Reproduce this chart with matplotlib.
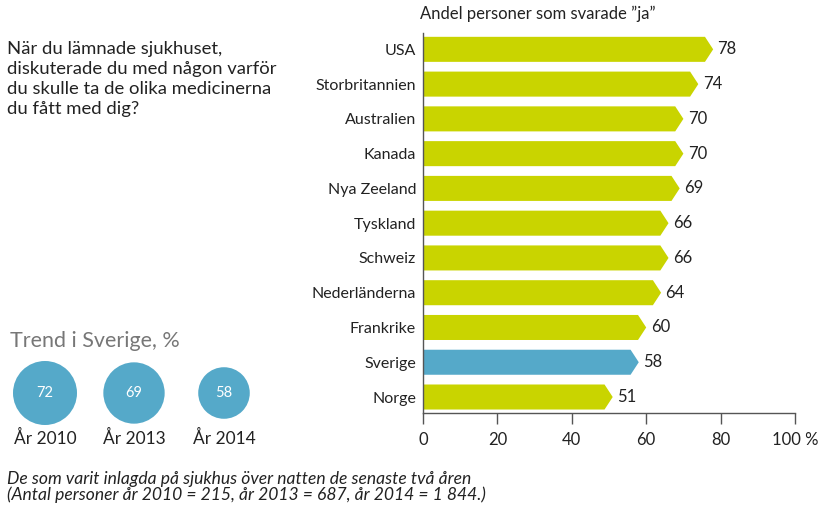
import matplotlib.pyplot as plt
from matplotlib.patches import Circle

plt.rcParams['font.family'] = ['Lato', 'DejaVu Sans']

countries = ['USA', 'Storbritannien', 'Australien', 'Kanada', 'Nya Zeeland', 'Tyskland',
             'Schweiz', 'Nederländerna', 'Frankrike', 'Sverige', 'Norge']
values = [78, 74, 70, 70, 69, 66, 66, 64, 60, 58, 51]
highlight = 'Sverige'

trend_years = ['År 2010', 'År 2013', 'År 2014']
trend_values = [72, 69, 58]

x_ticks = [0, 20, 40, 60, 80, 100]
x_tick_labels = ['0', '20', '40', '60', '80', '100 %']

green = '#c9d400'
blue = '#55a9c9'

W, H = 824, 507
fig = plt.figure(figsize=(W / 100, H / 100), dpi=100)
ax = fig.add_axes([423 / W, 1 - 413 / H, 372 / W, 380 / H])

bar_h = 0.72
tip = 2.2
for i, (c, v) in enumerate(zip(countries, values)):
    col = blue if c == highlight else green
    xs = [0, v - tip, v, v - tip, 0]
    ys = [i - bar_h / 2, i - bar_h / 2, i, i + bar_h / 2, i + bar_h / 2]
    ax.fill(xs, ys, color=col, lw=0)
    ax.text(v + 1.2, i, str(v), va='center', ha='left', fontsize=12, color='#222222')

ax.set_xlim(0, 100)
ax.set_ylim(len(countries) - 1 + 0.46, -0.47)
ax.set_yticks(range(len(countries)))
ax.set_yticklabels(countries, fontsize=11.5, color='#222222')
ax.tick_params(axis='y', length=0, pad=5)
ax.set_xticks(x_ticks)
ax.set_xticklabels(x_tick_labels, fontsize=12, color='#222222')
ax.tick_params(axis='x', direction='out', length=8, width=1, color='#555555', pad=6)
for s in ['top', 'right']:
    ax.spines[s].set_visible(False)
for s in ['left', 'bottom']:
    ax.spines[s].set_color('#555555')
    ax.spines[s].set_linewidth(1)

# overlay in pixel coordinates for texts and circles
ov = fig.add_axes([0, 0, 1, 1], zorder=-1)
ov.set_xlim(0, W)
ov.set_ylim(H, 0)
ov.axis('off')

ov.text(420, 14, 'Andel personer som svarade ”ja”', fontsize=12, ha='left', va='center',
        color='#222222')
ov.text(7, 41, 'När du lämnade sjukhuset,\ndiskuterade du med någon varför\n'
        'du skulle ta de olika medicinerna\ndu fått med dig?',
        fontsize=13.3, ha='left', va='top', color='#222222', linespacing=1.3)
ov.text(10, 341, 'Trend i Sverige, %', fontsize=15.5, ha='left', va='center', color='#777777')

circle_x = [45, 134, 224]
scale = 32 / 72
for cx, yr, v in zip(circle_x, trend_years, trend_values):
    ov.add_patch(Circle((cx, 393), v * scale, color=blue, lw=0))
    ov.text(cx, 393, str(v), color='white', fontsize=10.5, ha='center', va='center')
    ov.text(cx, 438, yr, color='#222222', fontsize=12.5, ha='center', va='center')

ov.text(7, 471, 'De som varit inlagda på sjukhus över natten de senaste två åren\n'
        '(Antal personer år 2010 = 215, år 2013 = 687, år 2014 = 1 844.)',
        fontsize=12.6, style='italic', ha='left', va='top', color='#222222', linespacing=0.95)

plt.savefig('out.png', dpi=100)
